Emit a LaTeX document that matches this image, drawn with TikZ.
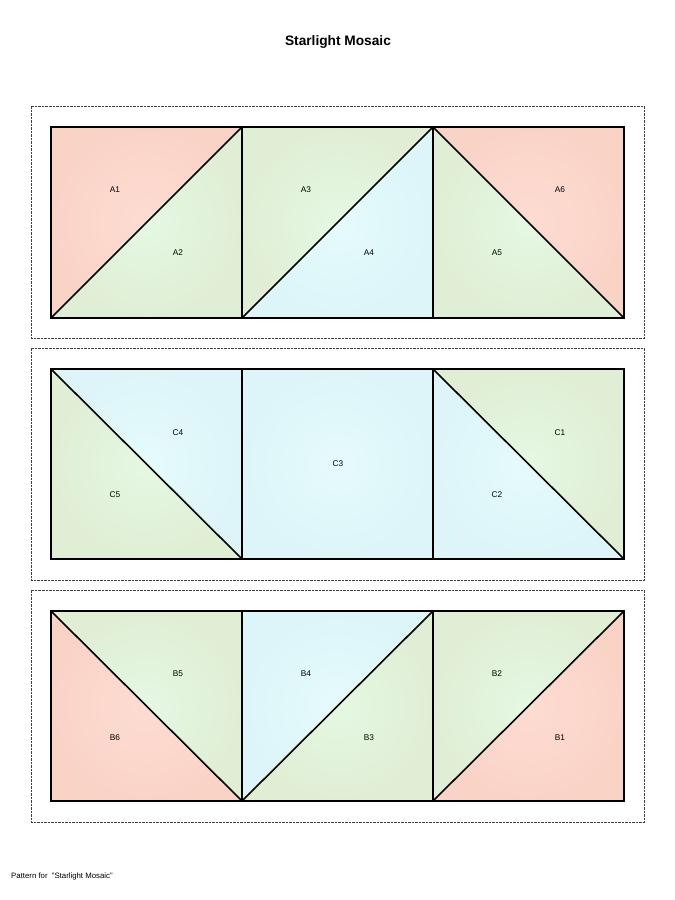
\documentclass[tikz,border=0pt]{standalone}
\usepackage{fontspec}
\setmainfont{Liberation Sans}
\definecolor{salOut}{HTML}{FAD3C7}
\definecolor{salIn}{HTML}{FDDCD2}
\definecolor{grnOut}{HTML}{E0EED5}
\definecolor{grnIn}{HTML}{E5F8E2}
\definecolor{cyOut}{HTML}{DDF5F8}
\definecolor{cyIn}{HTML}{E5FBFD}
\begin{document}
\begin{tikzpicture}[x=1pt,y=-1pt,
  salmon/.style={inner color=salIn,outer color=salOut},
  green/.style={inner color=grnIn,outer color=grnOut},
  cyan/.style={inner color=cyIn,outer color=cyOut},
  seam/.style={line width=1.6pt,draw=black,line cap=butt,line join=miter},
  frame/.style={draw=black!75,line width=0.8pt,dash pattern=on 2.5pt off 1pt},
  lbl/.style={font=\fontsize{8.3}{10}\selectfont,inner sep=0pt},
  title/.style={font=\bfseries\fontsize{13.7}{16}\selectfont},
  foot/.style={font=\fontsize{7.8}{9}\selectfont,anchor=west,inner sep=0pt}]
\useasboundingbox[fill=white] (0,0) rectangle (675,900);

\node[title] (t) at (338,42) {Starlight Mosaic};
\node[foot] (f) at (11,876) {Pattern for \ "Starlight Mosaic"};

% frames
\draw[frame] (31,106) rectangle (644,338);
\draw[frame] (31,348) rectangle (644,580);
\draw[frame] (31,590) rectangle (644,822);

% Row A
\shade[salmon] (51,127) -- (242,127) -- (51,318) -- cycle;
\shade[green] (51,318) -- (242,127) -- (242,318) -- cycle;
\shade[green] (242,127) -- (433,127) -- (242,318) -- cycle;
\shade[cyan] (242,318) -- (433,127) -- (433,318) -- cycle;
\shade[green] (433,127) -- (624,318) -- (433,318) -- cycle;
\shade[salmon] (433,127) -- (624,127) -- (624,318) -- cycle;
\draw[seam] (51,127) rectangle (624,318);
\draw[seam] (242,127) -- (242,318) (433,127) -- (433,318);
\draw[seam] (51,318) -- (242,127) (242,318) -- (433,127) (433,127) -- (624,318);
\node[lbl] (A1) at (115,190) {A1};
\node[lbl] (A2) at (178,253) {A2};
\node[lbl] (A3) at (306,190) {A3};
\node[lbl] (A4) at (369,253) {A4};
\node[lbl] (A5) at (497,253) {A5};
\node[lbl] (A6) at (560,190) {A6};

% Row C
\shade[cyan] (51,369) -- (242,369) -- (242,559) -- cycle;
\shade[green] (51,369) -- (242,559) -- (51,559) -- cycle;
\shade[cyan] (242,369) rectangle (433,559);
\shade[green] (433,369) -- (624,369) -- (624,559) -- cycle;
\shade[cyan] (433,369) -- (624,559) -- (433,559) -- cycle;
\draw[seam] (51,369) rectangle (624,559);
\draw[seam] (242,369) -- (242,559) (433,369) -- (433,559);
\draw[seam] (51,369) -- (242,559) (433,369) -- (624,559);
\node[lbl] (C4) at (178,433) {C4};
\node[lbl] (C5) at (115,495) {C5};
\node[lbl] (C3) at (338,464) {C3};
\node[lbl] (C1) at (560,433) {C1};
\node[lbl] (C2) at (497,495) {C2};

% Row B
\shade[green] (51,611) -- (242,611) -- (242,801) -- cycle;
\shade[salmon] (51,611) -- (242,801) -- (51,801) -- cycle;
\shade[cyan] (242,611) -- (433,611) -- (242,801) -- cycle;
\shade[green] (433,611) -- (433,801) -- (242,801) -- cycle;
\shade[green] (433,611) -- (624,611) -- (433,801) -- cycle;
\shade[salmon] (624,611) -- (624,801) -- (433,801) -- cycle;
\draw[seam] (51,611) rectangle (624,801);
\draw[seam] (242,611) -- (242,801) (433,611) -- (433,801);
\draw[seam] (51,611) -- (242,801) (242,801) -- (433,611) (433,801) -- (624,611);
\node[lbl] (B5) at (178,674) {B5};
\node[lbl] (B6) at (115,738) {B6};
\node[lbl] (B4) at (306,674) {B4};
\node[lbl] (B3) at (369,738) {B3};
\node[lbl] (B2) at (497,674) {B2};
\node[lbl] (B1) at (560,738) {B1};
\end{tikzpicture}
\end{document}
